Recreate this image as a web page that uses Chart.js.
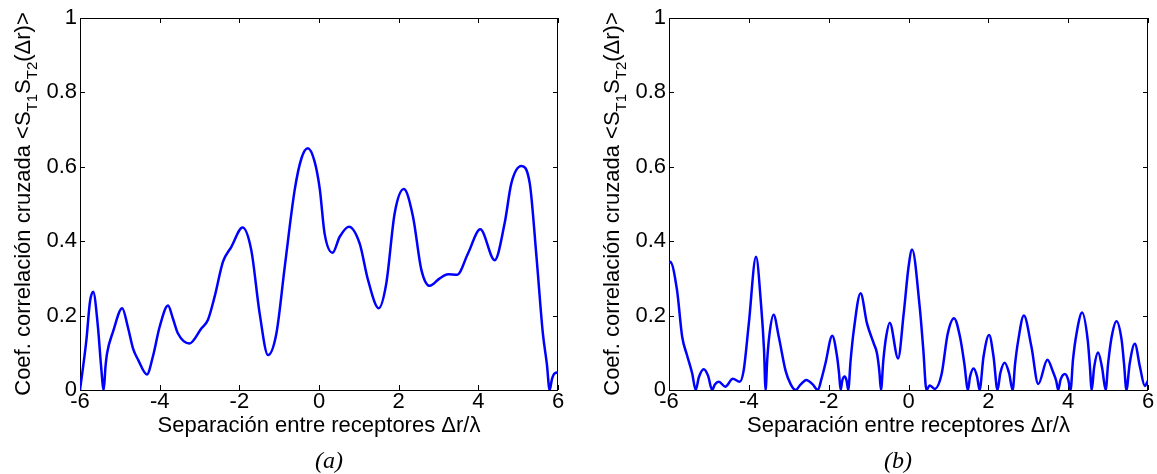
<!DOCTYPE html>
<html>
<head>
<meta charset="utf-8">
<script src="https://cdn.jsdelivr.net/npm/chart.js@4/dist/chart.umd.min.js"></script>
<style>
  body { margin: 0; background: #fff; }
  #fig { position: relative; width: 1157px; height: 474px; }
  canvas { position: absolute; top: 0; }
  .pie { position: absolute; font: italic 24px "Liberation Serif", "Times New Roman", serif; color: #000; transform: translate(-50%, -50%); top: 460px; }
</style>
</head>
<body>
<div id="fig">
  <canvas id="grafA" width="580" height="474" style="left:0"></canvas>
  <canvas id="grafB" width="577" height="474" style="left:580px"></canvas>
  <div class="pie" style="left:329px">(a)</div>
  <div class="pie" style="left:898px">(b)</div>
</div>
<script>
// valores (a)
const sepA = [-6, -5.84, -5.75, -5.67, -5.55, -5.47, -5.405, -5.36, -5.32, -5.17, -4.94, -4.8, -4.67, -4.54, -4.32, -4.17, -4.0, -3.79, -3.67, -3.54, -3.25, -2.95, -2.79, -2.62, -2.41, -2.2, -1.92, -1.7, -1.49, -1.28, -1.07, -0.86, -0.61, -0.44, -0.28, -0.11, 0.02, 0.14, 0.34, 0.52, 0.75, 1.02, 1.23, 1.5, 1.69, 1.9, 2.13, 2.36, 2.57, 2.78, 3.03, 3.24, 3.47, 3.74, 4.05, 4.41, 4.66, 4.83, 5.08, 5.29, 5.46, 5.62, 5.72, 5.79, 5.85, 5.92, 6];
const corrA = [0, 0.134, 0.237, 0.264, 0.17, 0.063, 0, 0.063, 0.099, 0.157, 0.22, 0.17, 0.112, 0.081, 0.042, 0.09, 0.17, 0.227, 0.193, 0.152, 0.125, 0.166, 0.188, 0.251, 0.345, 0.385, 0.437, 0.376, 0.206, 0.094, 0.152, 0.331, 0.538, 0.623, 0.65, 0.614, 0.54, 0.421, 0.369, 0.412, 0.439, 0.394, 0.296, 0.22, 0.287, 0.475, 0.54, 0.466, 0.323, 0.28, 0.3, 0.311, 0.31, 0.367, 0.432, 0.349, 0.448, 0.556, 0.602, 0.556, 0.358, 0.152, 0.07, 0, 0.03, 0.045, 0.047];

// valores (b)
const sepB = [-6, -5.97, -5.8, -5.67, -5.55, -5.42, -5.33, -5.25, -5.13, -5.02, -4.92, -4.85, -4.75, -4.59, -4.4, -4.23, -4.13, -4.0, -3.82, -3.69, -3.62, -3.58, -3.54, -3.48, -3.38, -3.25, -3.08, -2.95, -2.83, -2.7, -2.56, -2.4, -2.27, -2.18, -2.08, -1.91, -1.79, -1.74, -1.7, -1.66, -1.6, -1.55, -1.51, -1.45, -1.37, -1.2, -1.04, -0.87, -0.79, -0.73, -0.69, -0.63, -0.56, -0.47, -0.26, -0.12, 0, 0.09, 0.28, 0.37, 0.45, 0.53, 0.66, 0.83, 0.98, 1.14, 1.29, 1.4, 1.49, 1.54, 1.63, 1.72, 1.78, 1.88, 2.02, 2.13, 2.23, 2.3, 2.41, 2.52, 2.61, 2.67, 2.75, 2.89, 3.08, 3.25, 3.48, 3.62, 3.7, 3.75, 3.81, 3.92, 4.0, 4.06, 4.12, 4.21, 4.35, 4.49, 4.54, 4.59, 4.65, 4.75, 4.85, 4.94, 5.0, 5.09, 5.21, 5.34, 5.4, 5.46, 5.54, 5.67, 5.8, 5.92, 6];
const corrB = [0.34, 0.345, 0.269, 0.143, 0.094, 0.045, 0, 0.035, 0.056, 0.038, 0, 0.015, 0.022, 0.009, 0.03, 0.022, 0.052, 0.179, 0.358, 0.224, 0.11, 0, 0.08, 0.152, 0.202, 0.143, 0.052, 0.015, 0, 0.015, 0.027, 0.015, 0, 0.03, 0.072, 0.146, 0.09, 0.045, 0, 0.025, 0.036, 0.025, 0, 0.08, 0.161, 0.26, 0.179, 0.125, 0.099, 0.05, 0, 0.08, 0.143, 0.181, 0.085, 0.206, 0.33, 0.378, 0.224, 0.11, 0, 0.012, 0.003, 0.043, 0.15, 0.193, 0.143, 0.07, 0, 0.035, 0.058, 0.035, 0, 0.09, 0.148, 0.09, 0, 0.045, 0.073, 0.045, 0, 0.07, 0.134, 0.2, 0.116, 0.016, 0.081, 0.049, 0.025, 0, 0.028, 0.043, 0.028, 0, 0.08, 0.152, 0.208, 0.134, 0.07, 0, 0.06, 0.101, 0.06, 0, 0.07, 0.143, 0.185, 0.134, 0.07, 0, 0.07, 0.124, 0.061, 0.011, 0.025];

const ejeX = { min: -6, max: 6, paso: 2 };
const ejeY = { min: 0, max: 1, paso: 0.2 };
const tituloX = 'Separación entre receptores Δr/λ';
// partes del titulo Y: [texto, es subindice]
const tituloY = [['Coef. correlación cruzada <S', false], ['T1', true], ['S', false], ['T2', true], ['(Δr)>', false]];

const fuente = '"Liberation Sans", Arial, sans-serif';

const marco = {
  id: 'marco',
  beforeDatasetsDraw(chart) {
    const { ctx, chartArea: a, scales: { x, y } } = chart;
    ctx.save();
    ctx.strokeStyle = '#000';
    ctx.lineWidth = 1;
    ctx.strokeRect(a.left + 0.5, a.top + 0.5, a.right - a.left - 1, a.bottom - a.top);
    ctx.beginPath();
    x.ticks.forEach(t => {
      const px = Math.round(x.getPixelForValue(t.value)) + 0.5;
      ctx.moveTo(px, a.bottom); ctx.lineTo(px, a.bottom - 5);
      ctx.moveTo(px, a.top); ctx.lineTo(px, a.top + 5);
    });
    y.ticks.forEach(t => {
      const py = Math.round(y.getPixelForValue(t.value)) + 0.5;
      ctx.moveTo(a.left, py); ctx.lineTo(a.left + 5, py);
      ctx.moveTo(a.right, py); ctx.lineTo(a.right - 5, py);
    });
    ctx.stroke();
    ctx.restore();
  },
  afterDraw(chart) {
    const { ctx, chartArea: a } = chart;
    ctx.save();
    ctx.fillStyle = '#000';
    ctx.textBaseline = 'alphabetic';
    const tam = (sub) => sub ? '15px ' + fuente : '22px ' + fuente;
    let total = 0;
    tituloY.forEach(([txt, sub]) => { ctx.font = tam(sub); total += ctx.measureText(txt).width; });
    ctx.translate(a.left - 50, (a.top + a.bottom) / 2);
    ctx.rotate(-Math.PI / 2);
    let pos = -total / 2;
    tituloY.forEach(([txt, sub]) => {
      ctx.font = tam(sub);
      ctx.fillText(txt, pos, sub ? 7 : 0);
      pos += ctx.measureText(txt).width;
    });
    ctx.restore();
  }
};

function crearGrafico(id, xs, ys, izq, der) {
  const puntos = xs.map((v, i) => ({ x: v, y: ys[i] }));
  return new Chart(document.getElementById(id), {
    type: 'line',
    data: {
      datasets: [{
        data: puntos,
        borderColor: '#0000ff',
        borderWidth: 2.5,
        pointRadius: 0,
        fill: false,
        cubicInterpolationMode: 'monotone'
      }]
    },
    options: {
      responsive: false,
      animation: false,
      layout: { padding: { left: 0, right: der, top: 18, bottom: 0 } },
      plugins: { legend: { display: false }, tooltip: { enabled: false } },
      scales: {
        x: {
          type: 'linear',
          min: ejeX.min, max: ejeX.max,
          grid: { display: false, drawTicks: false },
          border: { display: false },
          ticks: { stepSize: ejeX.paso, autoSkip: false, maxRotation: 0, color: '#000', padding: 1, font: { family: fuente, size: 22, lineHeight: 1 } },
          title: { display: true, text: tituloX, color: '#000', font: { family: fuente, size: 22, lineHeight: 1 }, padding: { top: 0, bottom: 37 } },
          afterFit: s => { s.height = 84; }
        },
        y: {
          min: ejeY.min, max: ejeY.max,
          grid: { display: false, drawTicks: false },
          border: { display: false },
          ticks: {
            stepSize: ejeY.paso, color: '#000', padding: 3,
            font: { family: fuente, size: 22, lineHeight: 1 },
            callback: v => String(Math.round(v * 10) / 10)
          },
          afterFit: s => { s.width = izq; }
        }
      }
    },
    plugins: [marco]
  });
}

crearGrafico('grafA', sepA, corrA, 80, 22);
crearGrafico('grafB', sepB, corrB, 89, 9);
</script>
</body>
</html>
